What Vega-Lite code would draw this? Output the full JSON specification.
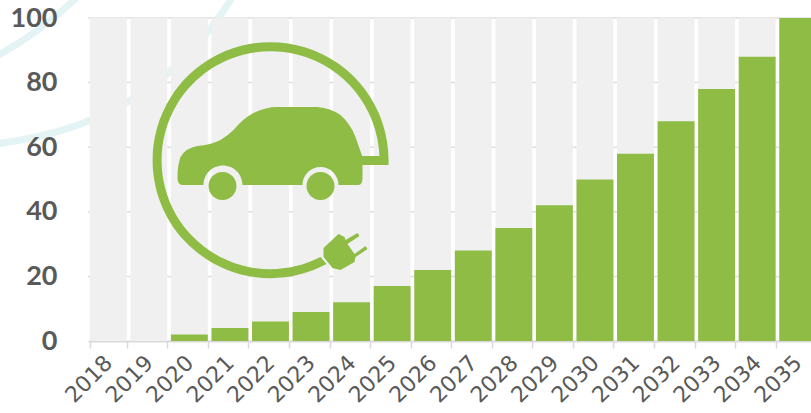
{
  "$schema": "https://vega.github.io/schema/vega-lite/v6.json",
  "width": 723,
  "height": 323,
  "autosize": "none",
  "padding": {"left": 88, "top": 18, "right": 0, "bottom": 72},
  "background": "white",
  "view": {"stroke": null},
  "datasets": {
    "rows": [
      {"year": "2018", "value": 0, "full": 100}, {"year": "2019", "value": 0, "full": 100}, {"year": "2020", "value": 2, "full": 100},
      {"year": "2021", "value": 4, "full": 100}, {"year": "2022", "value": 6, "full": 100}, {"year": "2023", "value": 9, "full": 100},
      {"year": "2024", "value": 12, "full": 100}, {"year": "2025", "value": 17, "full": 100}, {"year": "2026", "value": 22, "full": 100},
      {"year": "2027", "value": 28, "full": 100}, {"year": "2028", "value": 35, "full": 100}, {"year": "2029", "value": 42, "full": 100},
      {"year": "2030", "value": 50, "full": 100}, {"year": "2031", "value": 58, "full": 100}, {"year": "2032", "value": 68, "full": 100},
      {"year": "2033", "value": 78, "full": 100}, {"year": "2034", "value": 88, "full": 100}, {"year": "2035", "value": 100, "full": 100}
    ],
    "icon": [{"year": "2022", "value": 56}],
    "gridrows": [{"value": 20}, {"value": 40}, {"value": 60}, {"value": 80}, {"value": 100}]
  },
  "encoding": {
    "y": {
      "field": "value", "type": "quantitative", "title": null,
      "scale": {"domain": [0, 100], "nice": false},
      "axis": {
        "values": [0, 20, 40, 60, 80, 100], "domain": false, "ticks": false, "grid": false, "zindex": 1,
        "labelFont": "Lato", "labelFontWeight": "bold", "labelFontSize": 27, "labelColor": "#595959",
        "labelPadding": 31, "labelBound": false, "labelFlush": false
      }
    }
  },
  "layer": [
    {
      "data": {"name": "gridrows"},
      "mark": {"type": "rule", "color": "#dedede", "strokeWidth": 1.5}
    },
    {
      "data": {"name": "icon"},
      "mark": {
        "type": "point", "size": 4, "filled": false, "stroke": "#e4f3f3", "strokeWidth": 7, "opacity": 1, "clip": false,
        "shape": "M-285,-98 Q-232,-125 -188,-168 M-285,-15 C-190,-25 -100,-60 -35,-168"
      },
      "encoding": {"x": {"field": "year", "type": "ordinal"}}
    },
    {
      "data": {"name": "rows"},
      "mark": {"type": "bar", "color": "#f0f0f0"},
      "encoding": {
        "x": {
          "field": "year", "type": "ordinal", "title": null,
          "scale": {"range": [0, 730], "paddingInner": 0.09, "paddingOuter": 0.045},
          "axis": {
            "labelAngle": -45, "labelAlign": "right", "labelBaseline": "middle",
            "labelFont": "DejaVu Sans", "labelFontSize": 22, "labelColor": "#595959",
            "labelPadding": 11, "labelOverlap": false, "labelBound": false, "labelFlush": false,
            "domainColor": "#d9d9d9", "domainWidth": 2, "tickColor": "#d9d9d9", "tickWidth": 1.5,
            "tickSize": 7, "tickBand": "extent", "grid": false
          }
        },
        "y": {"field": "full", "type": "quantitative", "stack": null}
      }
    },
    {
      "data": {"name": "rows"},
      "mark": {"type": "bar", "color": "#8fbc45"},
      "encoding": {"x": {"field": "year", "type": "ordinal"}}
    },
    {
      "data": {"name": "icon"},
      "mark": {
        "type": "point", "size": 4, "filled": true, "color": "#8fbc45", "opacity": 1, "stroke": null,
        "shape": "M118,5 L88,5 L88,-4 L109,-4 A109,109 0 1 0 50,97 L56,104 A118,118 0 1 1 118,5 Z M-88,25 Q-93,25 -93,18 Q-93,5 -90,-3 Q-85,-12 -73,-14 Q-60,-15 -50,-20 Q-42,-25 -37,-30 Q-27,-42 -17,-47 Q-5,-53 7,-53 L47,-53 Q60,-52 70,-45 Q80,-36 85,-23 L92,-3 L92,18 Q92,25 88,25 L68,25 A18,18 0 0 0 32,25 L-28,25 A19.5,19.5 0 0 0 -67,25 Z M-62,26 A14,14 0 1 0 -34,26 A14,14 0 1 0 -62,26 Z M36,26 A14,14 0 1 0 64,26 A14,14 0 1 0 36,26 Z M53,88 L68,74 L74,77 L75,80 L87,73 L89,76 L77,84 L84,94 L95,86 L97,89 L85,97 L84,102 L70,110 L62,108 L53,97 Z"
      },
      "encoding": {"x": {"field": "year", "type": "ordinal"}}
    }
  ]
}
